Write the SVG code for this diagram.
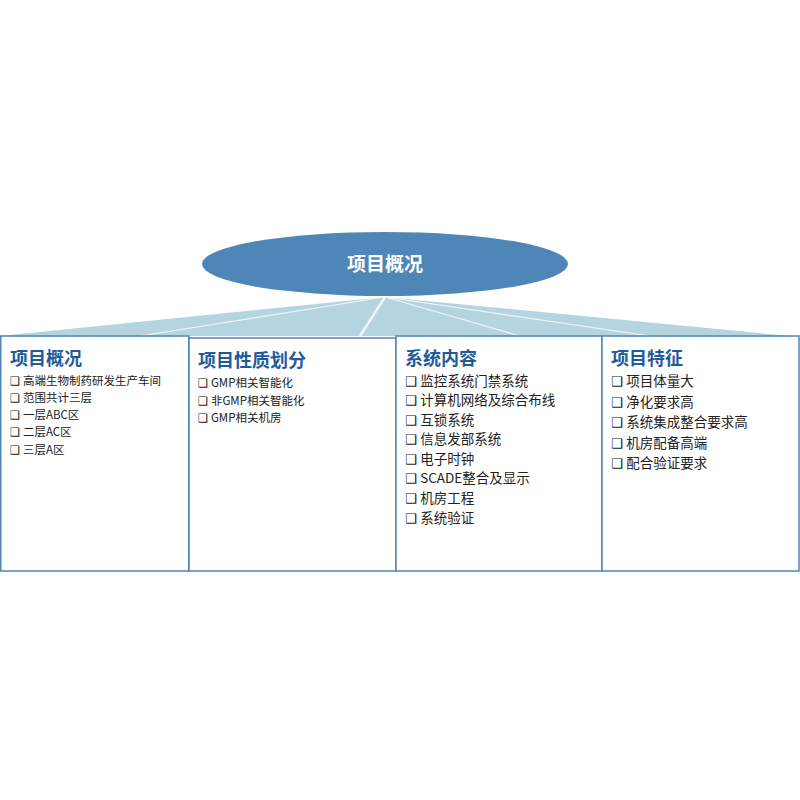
<svg xmlns="http://www.w3.org/2000/svg" width="800" height="800" viewBox="0 0 800 800">
<style>
.box{fill:#fff;stroke:#4f86b8;stroke-width:1.5}
.h{font-family:"Noto Sans CJK SC",sans-serif;font-weight:bold;font-size:18px;fill:#1f5a99}
.s{font-family:"Noto Sans CJK SC",sans-serif;font-size:11.5px;fill:#222}
.m{font-family:"Noto Sans CJK SC",sans-serif;font-size:13.5px;fill:#222}
.cb{font-family:"DejaVu Sans",sans-serif}
</style>
<rect width="800" height="800" fill="#fff"/>
<g id="connectors">
<polygon points="385,297 0,336 790,336" fill="#b4d4e0"/>
<g stroke="#fff" stroke-width="1.2" opacity="0.8">
<line x1="385" y1="297" x2="140" y2="336"/>
<line x1="385" y1="297" x2="360" y2="336" stroke-width="2.5"/>
<line x1="385" y1="297" x2="520" y2="336"/>
<line x1="385" y1="297" x2="650" y2="336"/>
</g>
</g>
<g id="root">
<ellipse cx="385" cy="264" rx="183" ry="32" fill="#4f86b8"/>
<text x="385" y="271" text-anchor="middle" font-family="Noto Sans CJK SC,sans-serif" font-weight="bold" font-size="19" fill="#fff">项目概况</text>
</g>
<g id="n1">
<rect class="box" x="0.75" y="336" width="188" height="235"/>
<text class="h" x="10" y="365">项目概况</text>
<g class="s">
<text x="10" y="385"><tspan class="cb">❑</tspan> 高端生物制药研发生产车间</text>
<text x="10" y="402"><tspan class="cb">❑</tspan> 范围共计三层</text>
<text x="10" y="419"><tspan class="cb">❑</tspan> 一层ABC区</text>
<text x="10" y="436"><tspan class="cb">❑</tspan> 二层AC区</text>
<text x="10" y="454"><tspan class="cb">❑</tspan> 三层A区</text>
</g>
</g>
<g id="n2">
<rect class="box" x="189" y="338" width="207" height="233"/>
<text class="h" x="198" y="367">项目性质划分</text>
<g class="s">
<text x="198" y="387"><tspan class="cb">❑</tspan> GMP相关智能化</text>
<text x="198" y="405"><tspan class="cb">❑</tspan> 非GMP相关智能化</text>
<text x="198" y="422"><tspan class="cb">❑</tspan> GMP相关机房</text>
</g>
</g>
<g id="n3">
<rect class="box" x="396" y="336" width="206" height="235"/>
<text class="h" x="405" y="365">系统内容</text>
<g class="m">
<text x="405" y="386"><tspan class="cb">❑</tspan> 监控系统门禁系统</text>
<text x="405" y="405"><tspan class="cb">❑</tspan> 计算机网络及综合布线</text>
<text x="405" y="425"><tspan class="cb">❑</tspan> 互锁系统</text>
<text x="405" y="444"><tspan class="cb">❑</tspan> 信息发部系统</text>
<text x="405" y="464"><tspan class="cb">❑</tspan> 电子时钟</text>
<text x="405" y="483"><tspan class="cb">❑</tspan> SCADE整合及显示</text>
<text x="405" y="503"><tspan class="cb">❑</tspan> 机房工程</text>
<text x="405" y="523"><tspan class="cb">❑</tspan> 系统验证</text>
</g>
</g>
<g id="n4">
<rect class="box" x="602" y="336" width="197" height="235"/>
<text class="h" x="611" y="365">项目特征</text>
<g class="m">
<text x="611" y="386"><tspan class="cb">❑</tspan> 项目体量大</text>
<text x="611" y="407"><tspan class="cb">❑</tspan> 净化要求高</text>
<text x="611" y="427"><tspan class="cb">❑</tspan> 系统集成整合要求高</text>
<text x="611" y="448"><tspan class="cb">❑</tspan> 机房配备高端</text>
<text x="611" y="468"><tspan class="cb">❑</tspan> 配合验证要求</text>
</g>
</g>
</svg>
